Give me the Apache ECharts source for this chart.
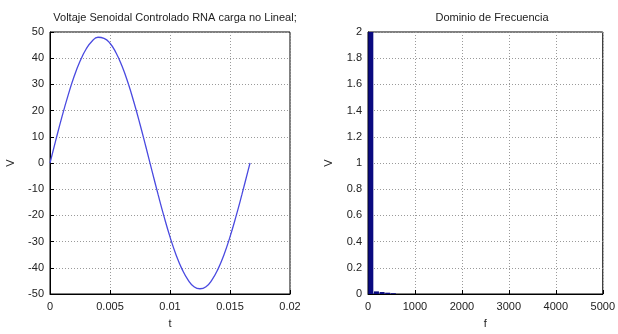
<!DOCTYPE html>
<html><head><meta charset="utf-8">
<script src="https://cdn.jsdelivr.net/npm/echarts@6/dist/echarts.min.js"></script>
<style>html,body{margin:0;padding:0;background:#fff}#c{width:618px;height:334px}</style>
</head><body><div id="c"></div>
<script>
// Time-domain signal
const tValues = [0,0.0005,0.001,0.0015,0.002,0.0025,0.003,0.0035,0.004,0.0045,0.005,0.0055,0.006,0.0065,0.007,0.0075,0.008,0.0085,0.009,0.0095,0.01,0.0105,0.011,0.0115,0.012,0.0125,0.013,0.0135,0.014,0.0145,0.015,0.0155,0.016,0.0165,0.01667];
const vValues = [0,9.0,17.7,25.7,32.9,38.8,43.4,46.5,48.0,47.6,45.7,42.1,37.0,30.6,23.1,14.8,6.0,-3.0,-11.9,-20.4,-28.2,-35.0,-40.5,-44.6,-47.2,-48.0,-47.2,-44.6,-40.5,-35.0,-28.2,-20.4,-11.9,-3.0,0];
// Frequency-domain spectrum
const fValues = [60,180,300,420,540];
const aValues = [2.0,0.02,0.015,0.01,0.006];
// Titles & labels
const titleLeft = 'Voltaje Senoidal Controlado RNA carga no Lineal;';
const titleRight = 'Dominio de Frecuencia';

const font = 'Liberation Sans, Arial, sans-serif';
const chart = echarts.init(document.getElementById('c'));
const split = {show:true,lineStyle:{color:'#9a9a9a',type:[1,2],width:1}};
const axLine = {show:true,onZero:false,lineStyle:{color:'#000',width:1}};
const tick = {show:true,inside:true,length:4,lineStyle:{color:'#000'}};
const lab = {color:'#222',fontFamily:font,fontSize:11};
const nameStyle = {color:'#222',fontFamily:font,fontSize:11};
chart.setOption({
  animation:false,
  title:[
    {text:titleLeft,left:170,top:7,textAlign:'center',textStyle:{fontFamily:font,fontSize:11,fontWeight:'normal',color:'#222'}},
    {text:titleRight,left:487,top:7,textAlign:'center',textStyle:{fontFamily:font,fontSize:11,fontWeight:'normal',color:'#222'}}
  ],
  grid:[
    {left:50,top:32,width:240,height:266,show:true,borderColor:'#000',borderWidth:1,backgroundColor:'#fff'},
    {left:368,top:32,width:239,height:266,show:true,borderColor:'#000',borderWidth:1,backgroundColor:'#fff'}
  ],
  xAxis:[
    {type:'value',gridIndex:0,min:0,max:0.02,interval:0.005,axisLine:axLine,axisTick:tick,splitLine:split,
     axisLabel:Object.assign({margin:7,formatter:v=>String(+v.toFixed(3))},lab),name:'t',nameLocation:'middle',nameGap:24,nameTextStyle:nameStyle},
    {type:'value',gridIndex:1,min:0,max:5000,interval:1000,axisLine:axLine,axisTick:tick,splitLine:split,
     axisLabel:Object.assign({margin:7,formatter:v=>String(Math.round(v))},lab),name:'f',nameLocation:'middle',nameGap:24,nameTextStyle:nameStyle}
  ],
  yAxis:[
    {type:'value',gridIndex:0,min:-50,max:50,interval:10,axisLine:axLine,axisTick:tick,splitLine:split,
     axisLabel:Object.assign({margin:6},lab),name:'V',nameLocation:'middle',nameGap:34,nameRotate:90,nameTextStyle:nameStyle},
    {type:'value',gridIndex:1,min:0,max:2,interval:0.2,axisLine:axLine,axisTick:tick,splitLine:split,
     axisLabel:Object.assign({margin:6,formatter:v=>String(+v.toFixed(1))},lab),name:'V',nameLocation:'middle',nameGap:34,nameRotate:90,nameTextStyle:nameStyle}
  ],
  series:[
    {type:'line',xAxisIndex:0,yAxisIndex:0,data:tValues.map((t,i)=>[t,vValues[i]]),smooth:true,symbol:'none',
     lineStyle:{color:'#4a4ae0',width:1.3}},
    {type:'bar',xAxisIndex:1,yAxisIndex:1,data:fValues.map((f,i)=>[f,aValues[i]]),barWidth:5,
     itemStyle:{color:'#0a0a80'}}
  ]
});
</script></body></html>
